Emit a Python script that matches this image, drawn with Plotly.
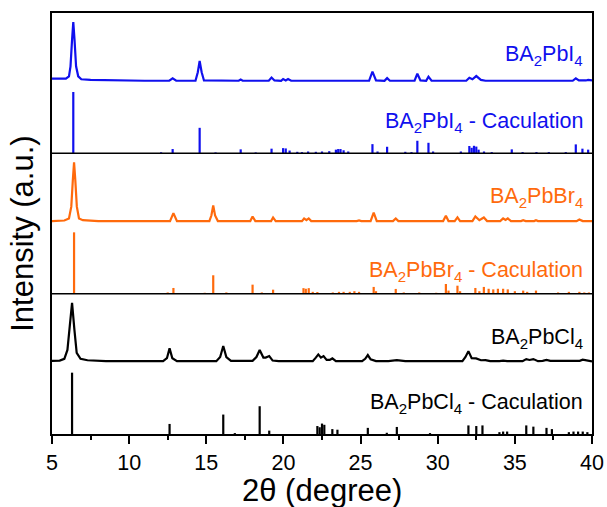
import plotly.graph_objects as go

# ---- measured patterns: 2-theta (deg) and relative intensity (% of strongest peak) ----
pbi4_x = [5.0, 5.5, 5.9, 6.1, 6.2, 6.3, 6.38, 6.46, 6.56, 6.7, 6.9, 7.5, 9.0, 11.0, 12.6, 12.82, 13.05,
          14.3, 14.45, 14.57, 14.7, 14.85, 17.1, 17.23, 17.36, 19.05, 19.23, 19.42, 19.85, 19.98, 20.15,
          20.3, 20.5, 21.6, 21.7, 21.8, 22.9, 22.97, 23.05, 23.35, 23.45, 23.6, 23.7, 23.85, 24.1, 24.2,
          24.3, 24.6, 24.7, 24.8, 25.55, 25.77, 26.0, 26.55, 26.72, 26.9, 27.85, 27.95, 28.05, 28.5,
          28.68, 28.88, 29.25, 29.4, 29.6, 31.85, 32.05, 32.25, 32.5, 32.8, 33.1, 34.7, 34.8, 34.9,
          38.75, 38.95, 39.15, 39.6, 39.75, 40.0]
pbi4_y = [4, 3.5, 4, 8, 25, 70, 100, 70, 25, 8, 3, 2, 1, 0.5, 0.5, 4.5, 0.5,
          0.5, 15, 34, 15, 1, 0.5, 2.5, 0.5, 0.5, 6, 1, 0.5, 3.5, 1,
          3.5, 0.5, 0.5, 1.5, 0.5, 0.5, 1.5, 0.5, 0.5, 1.7, 0.5, 1.7, 0.5, 0.5, 1.7,
          0.5, 0.5, 1.5, 0.5, 0.5, 16, 1, 0.5, 5, 0.5, 0.5, 1.5, 0.5, 0.5,
          12.5, 1, 0.5, 7.5, 0.5, 0.5, 5.5, 3, 8.5, 2, 0.5, 0.5, 1.7, 0.5,
          0.5, 4.5, 1, 1, 2, 1]

pbbr4_x = [5.0, 5.8, 6.1, 6.25, 6.35, 6.43, 6.51, 6.61, 6.75, 7.0, 8.0, 12.65, 12.87, 13.1, 15.2, 15.33,
           15.45, 15.57, 15.75, 17.85, 18.0, 18.18, 19.2, 19.33, 19.5, 21.2, 21.34, 21.49, 21.64, 21.8,
           24.75, 24.9, 25.05, 25.65, 25.85, 26.05, 27.1, 27.28, 27.45, 30.35, 30.53, 30.7, 31.1, 31.28,
           31.45, 32.25, 32.44, 32.7, 32.99, 33.2, 34.05, 34.24, 34.4, 34.54, 34.75, 35.4, 35.54, 35.7,
           36.25, 36.37, 36.5, 39.0, 39.18, 39.4, 40.0]
pbbr4_y = [0.5, 1.5, 5, 25, 70, 100, 70, 25, 5, 2, 0.5, 0.5, 14, 0.5, 0.5, 10,
           27, 10, 0.5, 0.5, 8.4, 0.5, 0.5, 6.7, 0.5, 0.5, 5, 2, 5, 0.5,
           0.5, 1.7, 0.5, 0.5, 15, 0.5, 0.5, 5, 0.5, 0.5, 9.5, 0.5, 0.5, 6.7,
           0.5, 0.5, 8.4, 2, 6.7, 0.5, 0.5, 5, 2.5, 5, 0.5, 0.5, 2, 0.5,
           0.5, 2, 0.5, 0.5, 3.3, 0.5, 0.5]

pbcl4_x = [5.0, 5.5, 5.8, 6.0, 6.15, 6.3, 6.45, 6.6, 6.85, 7.3, 8.5, 12.2, 12.45, 12.62, 12.8, 13.1,
           15.65, 15.9, 16.1, 16.3, 16.6, 18.0, 18.25, 18.46, 18.7, 18.85, 19.08, 19.3, 19.7, 21.9, 22.1,
           22.26, 22.43, 22.6, 22.8, 23.0, 23.17, 23.4, 25.1, 25.3, 25.47, 25.65, 26.0, 26.8, 27.35, 27.9,
           31.6, 31.8, 31.99, 32.2, 32.49, 32.8, 33.1, 33.4, 34.0, 34.24, 34.5, 35.5, 35.74, 35.95, 36.2,
           36.5, 36.8, 37.05, 37.3, 38.6, 38.8, 39.0, 39.2, 39.4, 39.7, 40.0]
pbcl4_y = [1.5, 2, 5, 20, 60, 100, 55, 15, 5, 2.5, 1, 1, 6, 22.7, 6, 1,
           1, 8, 26.6, 8, 1.5, 1.5, 8, 19.8, 7, 7, 9.6, 2, 1, 1, 7,
           12.4, 7, 9.6, 3, 3, 5.6, 1, 1, 5, 11.3, 4, 1, 1, 2.8, 1,
           1, 8, 18, 6, 5.6, 2.5, 2.8, 1, 1, 1.7, 1, 1, 4.5, 3, 4.5,
           1, 1.5, 3, 1.5, 1, 2, 1, 1.5, 3.4, 1.5, 0.5]

# ---- calculated reflections: 2-theta (deg) and relative intensity (%) ----
pbi4_calc_x = [6.38, 12.07, 12.82, 14.57, 15.6, 17.23, 18.2, 19.23, 19.98, 20.15, 20.4, 20.9, 21.2, 21.6,
               22.1, 22.5, 22.97, 23.4, 23.55, 23.7, 23.9, 24.2, 25.77, 26.1, 26.72, 27.9, 28.3, 28.68,
               29.4, 29.7, 31.5, 32.05, 32.2, 32.35, 32.5, 32.65, 33.0, 33.5, 34.8, 35.5, 36.4, 37.2,
               38.3, 38.95, 39.38, 39.75]
pbi4_calc_y = [100, 1.7, 7, 41.6, 1.5, 6.5, 1.5, 7.6, 8.5, 8, 4.5, 2.5, 2, 3,
               2.5, 3, 3.5, 6, 7, 7, 5, 3, 15, 3, 10.7, 2.5, 2, 20.5,
               17.2, 3, 3, 12, 9, 12.3, 11, 6, 3, 2, 6.5, 2, 2, 2,
               2, 14.6, 7.6, 6]

pbbr4_calc_x = [6.43, 12.5, 12.87, 14.9, 15.45, 16.3, 18.0, 18.6, 19.33, 21.3, 21.45, 21.64, 21.9, 22.2,
                23.2, 23.6, 23.9, 24.3, 24.6, 24.9, 25.85, 26.0, 27.28, 27.8, 28.8, 29.9, 30.53, 30.7,
                31.28, 31.45, 32.44, 32.7, 32.99, 33.3, 33.6, 33.9, 34.24, 34.54, 35.0, 35.54, 35.8,
                36.37, 37.8, 38.5, 39.18, 39.5, 39.8]
pbbr4_calc_y = [100, 2, 9.3, 1.5, 30, 2, 14.7, 2, 6.5, 9, 8, 9, 3, 2.7,
                2, 3, 3, 3, 4, 3, 11, 4, 7.7, 2, 2, 1.5, 15.8, 5,
                13, 4, 9.3, 4, 11, 8, 7, 8, 8, 7, 4, 5, 3,
                5, 2, 3, 3, 2, 2]

pbcl4_calc_x = [6.3, 12.62, 16.1, 16.85, 18.46, 19.08, 22.2, 22.35, 22.5, 22.65, 23.17, 23.5, 25.47, 26.7,
                27.35, 29.5, 31.99, 32.5, 32.9, 34.0, 34.24, 34.5, 35.74, 36.2, 37.05, 37.4, 38.5, 38.8,
                39.1, 39.4, 39.7]
pbcl4_calc_y = [100, 16.4, 31.7, 1.5, 45.3, 5.5, 13, 11, 17, 15, 8, 7, 10, 2,
                11.5, 1.5, 14, 13, 14, 3, 4, 4, 14, 12, 10, 8, 3, 4,
                4, 4, 3]

x_ticks = [5, 10, 15, 20, 25, 30, 35, 40]

BLUE = "#1010ee"
ORANGE = "#ff6a0c"
BLACK = "#000000"
FONT = "Arial, Liberation Sans, sans-serif"

# each compound occupies one unit of height; measured curve above, reflections below
EXP_BASE = 0.515
EXP_SCALE = 0.42 / 100
CALC_SCALE = 0.437 / 100

fig = go.Figure()


def add_measured(xs, ys, level, color):
    fig.add_trace(go.Scatter(
        x=xs, y=[level + EXP_BASE + v * EXP_SCALE for v in ys],
        mode="lines", line=dict(color=color, width=2.2), hoverinfo="skip"))


def add_reflections(xs, ys, level, color):
    sx, sy = [], []
    for p, h in zip(xs, ys):
        sx += [p, p, None]
        sy += [level, level + h * CALC_SCALE, None]
    fig.add_trace(go.Scatter(
        x=sx, y=sy, mode="lines", line=dict(color=color, width=2.2), hoverinfo="skip"))


add_measured(pbi4_x, pbi4_y, 2, BLUE)
add_reflections(pbi4_calc_x, pbi4_calc_y, 2, BLUE)
add_measured(pbbr4_x, pbbr4_y, 1, ORANGE)
add_reflections(pbbr4_calc_x, pbbr4_calc_y, 1, ORANGE)
add_measured(pbcl4_x, pbcl4_y, 0, BLACK)
add_reflections(pbcl4_calc_x, pbcl4_calc_y, 0, BLACK)

# panel dividers
for lvl in (1, 2):
    fig.add_shape(type="line", xref="paper", x0=0, x1=1, yref="y", y0=lvl, y1=lvl,
                  line=dict(color="black", width=1.5))

labels = [
    ("BA<sub>2</sub>PbI<sub>4</sub>", 2.70, BLUE),
    ("BA<sub>2</sub>PbI<sub>4</sub> - Caculation", 2.22, BLUE),
    ("BA<sub>2</sub>PbBr<sub>4</sub>", 1.685, ORANGE),
    ("BA<sub>2</sub>PbBr<sub>4</sub> - Caculation", 1.16, ORANGE),
    ("BA<sub>2</sub>PbCl<sub>4</sub>", 0.68, BLACK),
    ("BA<sub>2</sub>PbCl<sub>4</sub> - Caculation", 0.215, BLACK),
]
for text, yv, col in labels:
    fig.add_annotation(x=39.55, y=yv, xref="x", yref="y", text=text, showarrow=False,
                       xanchor="right", yanchor="middle",
                       font=dict(family=FONT, size=21.5, color=col))

# axis titles
fig.add_annotation(text="2θ (degree)", xref="paper", yref="paper", x=0.5, y=-0.1345,
                   xanchor="center", yanchor="middle", showarrow=False,
                   font=dict(family=FONT, size=31, color="black"))
fig.add_annotation(text="Intensity (a.u.)", xref="paper", yref="paper", x=-0.056, y=0.475,
                   xanchor="center", yanchor="middle", showarrow=False, textangle=-90,
                   font=dict(family=FONT, size=31, color="black"))

fig.update_layout(
    width=607, height=507,
    margin=dict(l=52, r=15, t=13, b=73, autoexpand=False),
    paper_bgcolor="white", plot_bgcolor="white",
    showlegend=False,
    font=dict(family=FONT, color="black"),
    xaxis=dict(
        range=[5, 40], tickvals=x_ticks, ticktext=[str(v) for v in x_ticks],
        automargin=False,
        showgrid=False, zeroline=False,
        showline=True, linecolor="black", linewidth=2, mirror=True,
        ticks="outside", ticklen=8, tickwidth=2, tickcolor="black",
        minor=dict(dtick=2.5, tick0=5, ticks="outside", ticklen=4, tickwidth=2, tickcolor="black"),
        tickfont=dict(size=21.5, color="black"),
    ),
    yaxis=dict(
        range=[0, 3], showticklabels=False, ticks="", automargin=False,
        showgrid=False, zeroline=False,
        showline=True, linecolor="black", linewidth=2, mirror=True,
    ),
)

fig.write_html("out.html")
